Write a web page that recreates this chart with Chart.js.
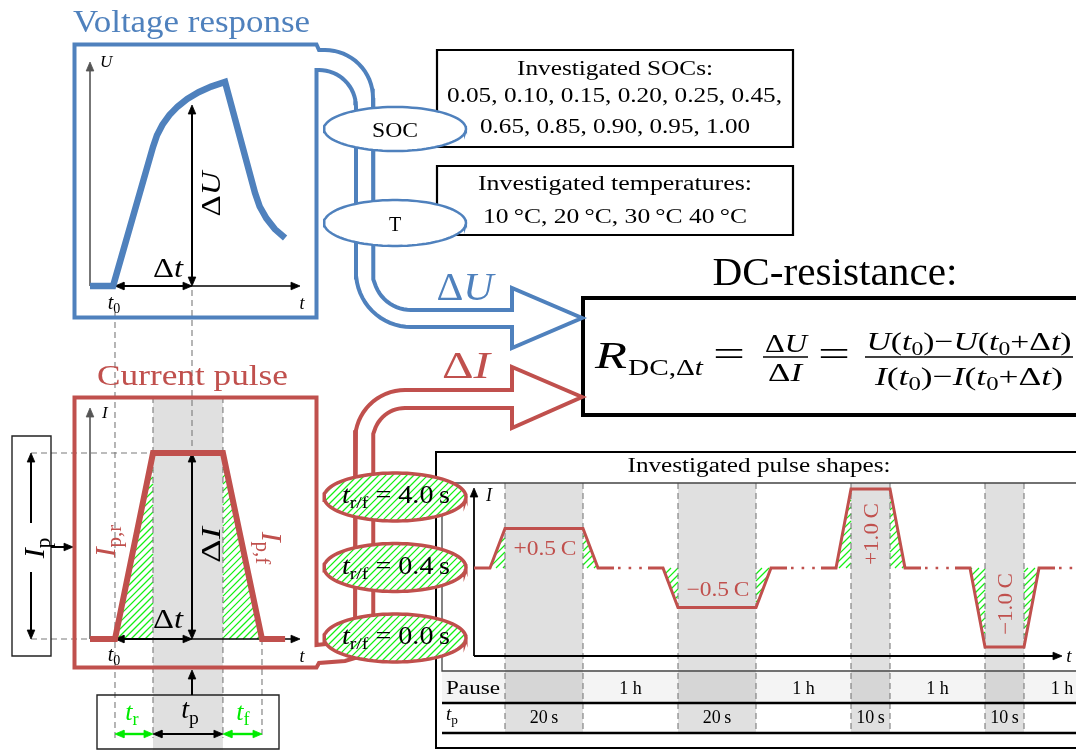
<!DOCTYPE html>
<html><head><meta charset="utf-8">
<script src="https://cdn.jsdelivr.net/npm/chart.js@4.4.1/dist/chart.umd.min.js"></script>
<style>html,body{margin:0;padding:0;background:#fff;overflow:hidden}#c{display:block}</style>
</head><body>
<canvas id="c" width="1076" height="750"></canvas>
<script>
// ---------------- DATA ----------------
const socValues = [0.05, 0.10, 0.15, 0.20, 0.25, 0.45, 0.65, 0.85, 0.90, 0.95, 1.00];
const temperatures = [10, 20, 30, 40];
const riseFallTimes = [4.0, 0.4, 0.0];
const pulseRates = [0.5, -0.5, 1.0, -1.0];          // C-rate of each investigated pulse
const pulseDurations = [20, 20, 10, 10];            // s
const pauseLabels = ['1 h', '1 h', '1 h', '1 h'];
// schematic voltage response (normalised t, U)
const voltageT = [0, 0.110, 0.300, 0.319, 0.345, 0.378, 0.417, 0.463, 0.517, 0.577, 0.643, 0.786, 0.808, 0.840, 0.880, 0.929];
const voltageU = [0, 0, 0.621, 0.673, 0.720, 0.763, 0.801, 0.835, 0.865, 0.890, 0.911, 0.415, 0.355, 0.302, 0.254, 0.214];
// schematic current pulse (normalised t, I)
const currentT = [0, 0.119, 0.300, 0.633, 0.819, 0.929];
const currentI = [0, 0, 0.805, 0.805, 0, 0];

// ---------------- STYLE ----------------
const W = 1076, H = 750;
const BLUE = 'rgb(79,129,189)', RED = 'rgb(192,80,77)', GREEN = 'rgb(0,235,0)', HATCHC = 'rgb(20,240,20)', DASH = '#7a7a7a';
const SERIF = '"Liberation Serif","DejaVu Serif",serif';

const cv = document.getElementById('c');
const ctx = cv.getContext('2d');

const ds = []; // bottom -> top
const P = pts => pts.map(p => ({x: p[0], y: p[1]}));
function line(pts, color, w, opt) {
  ds.push(Object.assign({data: P(pts), showLine: true, pointRadius: 0, borderColor: color, borderWidth: w,
    fill: false, tension: 0, borderJoinStyle: 'miter', borderCapStyle: 'butt'}, opt || {}));
}
function poly(pts, fillC, strokeC, w) {
  ds.push({data: P(pts), showLine: true, pointRadius: 0, fill: 'shape', backgroundColor: fillC,
    borderColor: strokeC || 'rgba(0,0,0,0)', borderWidth: w || 1, tension: 0, borderJoinStyle: 'miter'});
}
function hatchLines(pg, step) {
  step = step || 7;
  let kmin = Infinity, kmax = -Infinity;
  pg.forEach(p => { const k = p[0] + p[1]; kmin = Math.min(kmin, k); kmax = Math.max(kmax, k); });
  const out = [];
  for (let k = Math.ceil(kmin / step) * step; k <= kmax; k += step) {
    const hits = [];
    for (let i = 0; i < pg.length - 1; i++) {
      const a = pg[i], b = pg[i + 1];
      const fa = a[0] + a[1] - k, fb = b[0] + b[1] - k;
      if ((fa <= 0 && fb > 0) || (fa > 0 && fb <= 0)) { const t = fa / (fa - fb); hits.push([a[0] + t * (b[0] - a[0]), a[1] + t * (b[1] - a[1])]); }
    }
    if (hits.length >= 2) {
      hits.sort((p, q) => p[0] - q[0]);
      const h0 = hits[0], h1 = hits[hits.length - 1];
      out.push({x: h0[0], y: h0[1]}, {x: h1[0], y: h1[1]}, {x: NaN, y: NaN});
    }
  }
  ds.push({data: out, showLine: true, pointRadius: 0, borderColor: HATCHC, borderWidth: 1.25, fill: false, spanGaps: false, tension: 0});
}
const rectPts = (x1, y1, x2, y2) => [[x1, y1], [x2, y1], [x2, y2], [x1, y2], [x1, y1], [x2, y1]];
function rect(x1, y1, x2, y2, color, w) { line(rectPts(x1, y1, x2, y2), color, w); }
function fillRect(x1, y1, x2, y2, c) { poly([[x1, y1], [x2, y1], [x2, y2], [x1, y2], [x1, y1]], c); }
function head(tx, ty, dx, dy, color, len, hw) {
  len = len || 9; hw = hw || 3.8;
  const bx = tx - dx * len, by = ty - dy * len, nx = -dy, ny = dx;
  poly([[tx, ty], [bx + nx * hw, by + ny * hw], [bx - nx * hw, by - ny * hw], [tx, ty]], color, color, 0.8);
}
function arrow(x1, y1, x2, y2, color, w, both, len) {
  len = len || 9;
  const L = Math.hypot(x2 - x1, y2 - y1), dx = (x2 - x1) / L, dy = (y2 - y1) / L;
  const s = both ? len - 2 : 0;
  line([[x1 + dx * s, y1 + dy * s], [x2 - dx * (len - 2), y2 - dy * (len - 2)]], color, w);
  head(x2, y2, dx, dy, color, len);
  if (both) head(x1, y1, -dx, -dy, color, len);
}
function arc(cx, cy, r, a0, a1, n) {
  n = n || 16; const out = [];
  for (let k = 0; k <= n; k++) { const a = (a0 + (a1 - a0) * k / n) * Math.PI / 180; out.push([cx + r * Math.cos(a), cy + r * Math.sin(a)]); }
  return out;
}
function ellPts(cx, cy, rx, ry) {
  const pts = []; for (let k = 0; k <= 90; k++) { const a = k / 90 * 2 * Math.PI; pts.push([cx + rx * Math.cos(a), cy + ry * Math.sin(a)]); }
  return pts;
}
function ellipse(cx, cy, rx, ry, strokeC, w, hatched) {
  const pts = ellPts(cx, cy, rx, ry);
  poly(pts, '#fff');
  if (hatched) hatchLines(pts);
  line(pts.concat([pts[1]]), strokeC, w);
}
function dashed(pts) { line(pts, DASH, 1.1, {borderDash: [6, 4]}); }

// -------- geometry of the schematic --------
const VP = {x: 90, y: 286, w: 210, h: 224};   // voltage plot frame
const CP = {x: 90, y: 639, w: 210, h: 231};   // current plot frame
const vx = t => VP.x + t * VP.w, vy = u => VP.y - u * VP.h;
const cx_ = t => CP.x + t * CP.w, cy_ = i => CP.y - i * CP.h;
const t0x = cx_(currentT[1]), tsx = cx_(currentT[2]), tex = cx_(currentT[3]), tfx = cx_(currentT[4]);
const dtx = 192, topI = cy_(currentI[2]);

// pulse panel
const PP = {axisX: 474, base: 568, x0: 505, pps: 3.9, gap: 95, ramp: 15, pxPerC: 79, top: 483, bottom: 733};
const pulses = []; { let xs = PP.x0; pulseRates.forEach((r, i) => { const d = pulseDurations[i] * PP.pps; pulses.push({xs, xe: xs + d, lvl: PP.base - r * PP.pxPerC, r}); xs += d + PP.gap; }); }

// 1. background fills
fillRect(tsx, 397, tex, 750, 'rgba(0,0,0,0.12)');
fillRect(442, 672, 1076, 703, '#f4f4f4');
pulses.forEach(p => fillRect(p.xs, PP.top, p.xe, PP.bottom, 'rgba(0,0,0,0.12)'));

// 2. hatched areas
hatchLines([[t0x, CP.y], [tsx, topI], [tsx, CP.y], [t0x, CP.y]]);
hatchLines([[tex, topI], [tfx, CP.y], [tex, CP.y], [tex, topI]]);
pulses.forEach(p => {
  hatchLines([[p.xs - PP.ramp, PP.base], [p.xs, p.lvl], [p.xs, PP.base], [p.xs - PP.ramp, PP.base]]);
  hatchLines([[p.xe, p.lvl], [p.xe + PP.ramp, PP.base], [p.xe, PP.base], [p.xe, p.lvl]]);
});

// 3. dashed guide lines
dashed([[t0x, 312], [t0x, 738]]);
dashed([[dtx, 290], [dtx, topI]]);
dashed([[tsx, 397], [tsx, 738]]);
dashed([[tex, 397], [tex, 738]]);
dashed([[tfx, CP.y], [tfx, 738]]);
dashed([[31, topI], [tsx, topI]]);
dashed([[31, CP.y], [CP.x, CP.y]]);
pulses.forEach(p => { dashed([[p.xs, PP.top], [p.xs, PP.bottom]]); dashed([[p.xe, PP.top], [p.xe, PP.bottom]]); });

// 4. boxes
rect(437, 50, 793, 147, '#000', 2.2);
rect(437, 166, 793, 235, '#000', 2.2);
rect(583, 298, 1085, 415, '#000', 4);
line([[1085, 452], [436, 452], [436, 748], [1085, 748]], '#000', 2);
line([[1085, 483], [442, 483], [442, 671], [1085, 671]], '#444', 1.3);
line([[442, 703], [1076, 703]], '#000', 2.4);
line([[442, 733], [1076, 733]], '#000', 2.4);
rect(12, 436, 51, 656, '#222', 1.4);
rect(97, 695, 279, 749, '#222', 1.4);

// 5. axes & arrows
arrow(VP.x, VP.y, VP.x, 62, '#555', 1.6);
arrow(VP.x, VP.y, 300, VP.y, '#000', 1.6);
arrow(CP.x, CP.y, CP.x, 408, '#555', 1.6);
arrow(CP.x, CP.y, 300, CP.y, '#000', 1.6);
arrow(t0x, VP.y, dtx, VP.y, '#000', 2, true);
arrow(dtx, 105, dtx, VP.y, '#000', 2, true);
arrow(t0x, CP.y, dtx, CP.y, '#000', 2, true);
arrow(dtx, topI, dtx, CP.y, '#000', 2, true);
arrow(31, 523, 31, topI, '#000', 2);
arrow(31, 572, 31, CP.y, '#000', 2);
arrow(51, 547, 73, 547, '#000', 2);
arrow(dtx, 695, dtx, 670, '#000', 2);
arrow(t0x, 734, tsx, 734, GREEN, 2.4, true);
arrow(tsx, 734, tex, 734, '#000', 2, true);
arrow(tex, 734, tfx, 734, GREEN, 2.4, true);
arrow(PP.axisX, 656, PP.axisX, 488, '#000', 1.8);
arrow(PP.axisX, 656, 1062, 656, '#000', 1.8);
// fraction bars of the formula
line([[763, 357], [808, 357]], '#000', 1.4);
line([[865, 357], [1073, 357]], '#000', 1.4);

// 6. curves
line(voltageT.map((t, i) => [vx(t), vy(voltageU[i])]), BLUE, 6.5);
line(currentT.map((t, i) => [cx_(t), cy_(currentI[i])]), RED, 6);
pulses.forEach((p, i) => {
  const start = i === 0 ? PP.axisX : p.xs - PP.ramp - 15;
  const e = p.xe + PP.ramp;
  line([[start, PP.base], [p.xs - PP.ramp, PP.base], [p.xs, p.lvl], [p.xe, p.lvl], [e, PP.base], [e + 16, PP.base]], RED, 3);
  const dEnd = i === pulses.length - 1 ? 1076 : e + 48;
  line([[e + 20, PP.base], [dEnd, PP.base]], RED, 2.6, {borderDash: [2.6, 8]});
});

// 7. blue & red outlines (boxes + pipes + big arrows)
line([].concat(
  [[582, 318], [512, 348], [512, 327]],
  arc(411, 272, 55, 90, 180),
  arc(319, 107, 37, 0, -90),
  [[316.5, 70], [316.5, 317.5], [74.5, 317.5], [74.5, 44.5], [316.5, 44.5], [319, 50]],
  arc(325, 98, 48, -90, 0),
  arc(411, 272, 38, 180, 90),
  [[512, 310], [512, 288], [582, 318], [512, 348]]
), BLUE, 4);
line([].concat(
  [[582, 397], [512, 367], [512, 390]],
  arc(405, 440, 50, -90, -180),
  [[355, 620], [335, 643], [316.5, 645], [316.5, 397.5], [74.5, 397.5], [74.5, 667.5], [316.5, 667.5], [319, 663], [345, 661], [365, 655], [373, 640]],
  arc(405, 440, 32, 180, 270),
  [[512, 408], [512, 428], [582, 397], [512, 367]]
), RED, 4);

// 8. ellipses
ellipse(395, 129, 71, 22, BLUE, 2.5, false);
ellipse(395, 223, 71, 23, BLUE, 2.5, false);
riseFallTimes.forEach((v, i) => ellipse(395, 497 + i * 70.5, 71, 24, RED, 3.5, true));

// ---------------- TEXT ----------------
const T = t => ({t}), I = t => ({t, it: true}), S = t => ({t, sub: true});
const texts = [];
const tx = (x, y, segs, size, o) => texts.push(Object.assign({x, y, segs, size}, o || {}));
tx(73, 32, [T('Voltage response')], 32, {w: 237, color: BLUE, align: 'left'});
tx(97, 385, [T('Current pulse')], 30, {w: 191, color: RED, align: 'left'});
tx(835, 285, [T('DC-resistance:')], 40, {w: 245});
tx(615, 75, [T('Investigated SOCs:')], 20, {w: 196});
const socTxt = socValues.map(v => v.toFixed(2));
tx(614.5, 102, [T(socTxt.slice(0, 6).join(', ') + ',')], 20, {w: 335});
tx(615, 133, [T(socTxt.slice(6).join(', '))], 20, {w: 270});
tx(615, 190, [T('Investigated temperatures:')], 20, {w: 274});
const tmp = temperatures.map(t => t + '\u2009°C');
tx(615, 223, [T(tmp.slice(0, -1).join(', ') + ' ' + tmp[tmp.length - 1])], 20, {w: 264});
tx(395, 137, [T('SOC')], 20, {w: 46});
tx(395, 231, [T('T')], 20);
tx(759, 472, [T('Investigated pulse shapes:')], 20, {w: 263});
// formula
tx(595, 368, [I('R')], 38, {align: 'left', w: 32});
tx(628, 375, [T('DC,Δ'), I('t')], 24, {align: 'left', w: 75});
tx(729, 366, [T('=')], 36, {w: 32});
tx(786, 352, [T('Δ'), I('U')], 26, {w: 42});
tx(785, 381, [T('Δ'), I('I')], 26, {w: 34});
tx(834, 366, [T('=')], 36, {w: 32});
tx(969, 350, [I('U'), T('('), I('t'), S('0'), T(')−'), I('U'), T('('), I('t'), S('0'), T('+Δ'), I('t'), T(')')], 26, {w: 205});
tx(969, 385, [I('I'), T('('), I('t'), S('0'), T(')−'), I('I'), T('('), I('t'), S('0'), T('+Δ'), I('t'), T(')')], 26, {w: 188});
tx(465, 300, [T('Δ'), I('U')], 40, {w: 57, color: BLUE});
tx(466, 378, [T('Δ'), I('I')], 38, {w: 48, color: RED});
// voltage panel
tx(100, 67, [I('U')], 17, {align: 'left'});
tx(302, 309, [I('t')], 18);
tx(114, 309, [I('t'), S('0')], 20);
tx(168, 277, [T('Δ'), I('t')], 27, {w: 30});
tx(220, 194, [T('Δ'), I('U')], 28, {w: 45, rot: -Math.PI / 2});
// current panel
tx(102, 418, [I('I')], 17, {align: 'left'});
tx(302, 662, [I('t')], 18);
tx(114, 661, [I('t'), S('0')], 20);
tx(168, 628, [T('Δ'), I('t')], 27, {w: 30});
tx(220, 545, [T('Δ'), I('I')], 28, {w: 36, rot: -Math.PI / 2});
tx(115, 541, [I('I'), S('p,r')], 30, {color: RED, rot: -Math.PI / 2});
tx(262, 548, [I('I'), S('p,f')], 30, {color: RED, rot: Math.PI / 2});
tx(44, 548, [I('I'), S('p')], 30, {rot: -Math.PI / 2});
tx(132, 720, [I('t'), S('r')], 26, {color: GREEN});
tx(190, 718, [I('t'), S('p')], 28);
tx(243, 720, [I('t'), S('f')], 26, {color: GREEN});
// ellipse labels
riseFallTimes.forEach((v, i) => tx(396, 503 + i * 70.5, [I('t'), S('r/f'), T(' = ' + v.toFixed(1) + '\u2009s')], 25, {w: 108}));
// pulse panel
tx(486, 501, [I('I')], 18, {align: 'left'});
tx(1069, 662, [I('t')], 19);
pulses.forEach((p, i) => {
  const lab = (p.r > 0 ? '+' : '−') + Math.abs(p.r).toFixed(1) + '\u2009C';
  const cxp = (p.xs + p.xe) / 2;
  if (pulseDurations[i] >= 15) {
    tx(cxp + 1, p.r > 0 ? p.lvl + 26 : p.lvl - 12, [T(lab)], 21, {w: 63, color: RED});
  } else {
    tx(cxp + 7, p.r > 0 ? p.lvl + 45 : p.lvl - 43, [T(lab)], 21, {w: 62, color: RED, rot: -Math.PI / 2});
  }
  tx(cxp, 723, [T(pulseDurations[i] + '\u2009s')], 18);
  const gapC = Math.min(p.xe + PP.gap / 2, 1062);
  tx(gapC, 694, [T(pauseLabels[i])], 18);
});
tx(446, 694, [T('Pause')], 18, {align: 'left', w: 54});
tx(446, 720, [I('t'), S('p')], 19, {align: 'left'});

function drawRich(c, it) {
  const s = it.size;
  const parts = it.segs.map(g => {
    const sz = g.sub ? s * 0.7 : s;
    const font = (g.it ? 'italic ' : '') + sz + 'px ' + SERIF;
    c.font = font;
    return {g, font, w: c.measureText(g.t).width, dy: g.sub ? s * 0.2 : 0};
  });
  const nat = parts.reduce((a, p) => a + p.w, 0);
  const sx = it.w ? it.w / nat : 1;
  c.save();
  c.translate(it.x, it.y);
  if (it.rot) c.rotate(it.rot);
  c.scale(sx, 1);
  let x0 = it.align === 'left' ? 0 : it.align === 'right' ? -nat : -nat / 2;
  c.fillStyle = it.color || '#000';
  c.textBaseline = 'alphabetic'; c.textAlign = 'left';
  parts.forEach(p => { c.font = p.font; c.fillText(p.g.t, x0, p.dy); x0 += p.w; });
  c.restore();
}
const textPlugin = {
  id: 'schematicText',
  afterDatasetsDraw(chart) {
    const c = chart.ctx, xs = chart.scales.x, ys = chart.scales.y;
    texts.forEach(it => drawRich(c, Object.assign({}, it, {x: xs.getPixelForValue(it.x), y: ys.getPixelForValue(it.y)})));
  }
};

new Chart(ctx, {
  type: 'scatter',
  data: {datasets: ds.slice().reverse()},
  options: {
    responsive: false, animation: false, events: [], devicePixelRatio: 1,
    layout: {padding: 0},
    scales: {
      x: {type: 'linear', min: 0, max: W, display: false},
      y: {type: 'linear', min: 0, max: H, reverse: true, display: false}
    },
    plugins: {legend: {display: false}, tooltip: {enabled: false}, filler: {drawTime: 'beforeDatasetDraw'}}
  },
  plugins: [textPlugin]
});
</script>
</body></html>
